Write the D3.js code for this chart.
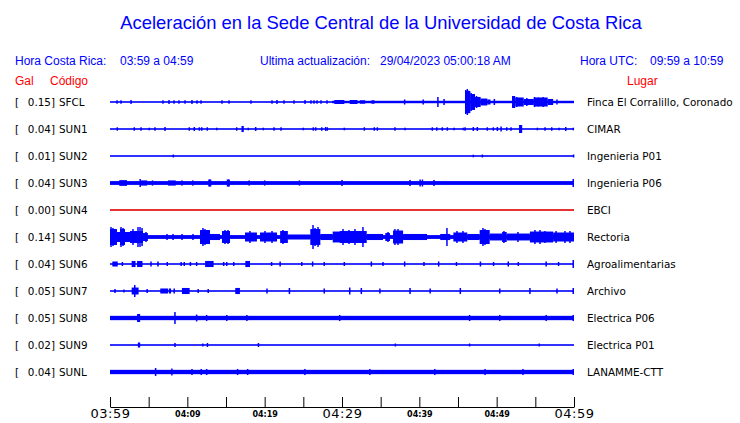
<!DOCTYPE html>
<html><head><meta charset="utf-8">
<script src="https://cdn.jsdelivr.net/npm/d3@7"></script>
<style>
html,body{margin:0;padding:0;background:#fff;}
svg text{font-family:"Liberation Sans",Arial,sans-serif;}
</style></head>
<body><svg id="c" width="740" height="423"></svg>
<script>
// ---- data (times in minutes after 03:59, amplitudes in Gal) ----
const stations = ["SFCL","SUN1","SUN2","SUN3","SUN4","SUN5","SUN6","SUN7","SUN8","SUN9","SUNL"];
const peakGal = [0.15,0.04,0.01,0.04,0.00,0.14,0.04,0.05,0.05,0.02,0.04];
const places = ["Finca El Corralillo, Coronado","CIMAR","Ingenieria P01","Ingenieria P06","EBCI","Rectoria","Agroalimentarias","Archivo","Electrica P06","Electrica P01","LANAMME-CTT"];
const tickMinutes = [0,5,10,15,20,25,30,35,40,45,50,55,60];
const tickLabels = ["03:59","","04:09","","04:19","","04:29","","04:39","","04:49","","04:59"];

// noise floor segments [t0, t1, halfAmp]
const baseLevels = [
  [[0,28.7,0.008],[28.7,60,0.014]],
  [[0,60,0.008]],
  [[0,60,0.008]],
  [[0,60,0.022]],
  [[0,60,0.009]],
  [[0,60,0.022]],
  [[0,60,0.008]],
  [[0,60,0.008]],
  [[0,60,0.025]],
  [[0,60,0.008]],
  [[0,60,0.025]]
];
// burst envelopes [t0, t1, halfAmp]
const bursts = [
  [[29.0,30.3,0.023],[31.0,32.0,0.023],[32.3,33.0,0.02],[33.8,34.2,0.02],[46.0,46.6,0.127],[46.6,47.2,0.092],[47.2,47.9,0.058],[47.9,48.8,0.040],[48.8,49.2,0.029],[52.0,52.4,0.069],[52.4,53.5,0.052],[53.5,54.8,0.035],[54.8,56.6,0.052],[56.6,57.3,0.035]],
  [[17.0,17.3,0.035],[52.9,53.3,0.046]],
  [],
  [[1.2,2.2,0.033],[4.0,4.8,0.03],[7.5,8.5,0.03],[12.7,13.1,0.04],[15.1,15.5,0.04]],
  [],
  [[0,0.9,0.092],[0.9,1.3,0.058],[1.3,1.94,0.092],[1.94,2.59,0.058],[2.59,4.27,0.069],[4.27,4.9,0.046],[11.64,12.93,0.081],[12.93,14.22,0.035],[14.48,15.52,0.069],[17.46,19.0,0.052],[19.4,21.6,0.052],[22.0,23.0,0.069],[23.0,25.9,0.029],[25.9,27.2,0.092],[27.2,28.8,0.035],[28.8,31.0,0.063],[29.7,33.2,0.069],[33.2,35.3,0.035],[35.6,36.2,0.046],[36.6,37.9,0.075],[37.9,41.0,0.035],[42.7,44.0,0.035],[44.4,46.2,0.052],[46.2,47.8,0.035],[47.8,49.1,0.081],[49.1,50.7,0.040],[50.7,51.3,0.058],[51.3,54.3,0.040],[54.3,57.3,0.063],[57.3,60,0.052]],
  [[0.3,1.0,0.029],[2.8,3.3,0.035],[3.5,4.2,0.035],[12.3,13.4,0.035],[17.5,18.1,0.035]],
  [[2.8,3.7,0.04],[6.5,7.5,0.029],[7.6,7.9,0.029],[9.3,10.3,0.035],[16.2,16.8,0.035]],
  [[3.5,3.9,0.046]],
  [[3.6,3.9,0.029]],
  []
];
// individual spikes [t, halfAmp]
const spikes = [
  [[0.91,0.02],[1.42,0.02],[2.72,0.023],[6.85,0.02],[7.63,0.023],[8.28,0.02],[8.92,0.02],[9.70,0.02],[10.60,0.023],[11.25,0.02],[11.77,0.02],[14.48,0.02],[15.39,0.02],[18.23,0.02],[20.95,0.02],[21.59,0.023],[22.50,0.02],[23.79,0.02],[25.22,0.023],[25.99,0.02],[26.38,0.02],[26.77,0.02],[27.28,0.02],[28.06,0.02],[38.1,0.029],[40.5,0.029],[42.4,0.058],[43.2,0.035],[46.0,0.138],[46.2,0.15],[46.4,0.13],[46.7,0.104],[47.0,0.092],[47.4,0.07],[47.8,0.058],[49.7,0.035],[52.1,0.069],[52.6,0.058],[53.9,0.046],[54.9,0.058],[55.4,0.052],[56.0,0.058],[57.8,0.029]],
  [[0.94,0.02],[3.14,0.02],[4.01,0.02],[5.08,0.015],[5.82,0.02],[7.11,0.023],[10.25,0.02],[10.90,0.023],[11.55,0.02],[11.86,0.02],[12.58,0.02],[13.80,0.015],[16.38,0.02],[17.88,0.015],[18.84,0.023],[19.82,0.015],[21.21,0.02],[22.11,0.02],[25.0,0.015],[26.29,0.02],[26.6,0.02],[27.38,0.02],[27.89,0.023],[28.10,0.02],[30.30,0.015],[32.89,0.02],[34.18,0.02],[34.57,0.02],[36.85,0.02],[38.15,0.015],[41.68,0.02],[42.25,0.02],[42.97,0.02],[43.62,0.02],[44.49,0.015],[45.69,0.015],[45.91,0.02],[46.98,0.023],[47.50,0.023],[48.79,0.02],[49.57,0.02],[50.09,0.023],[50.57,0.029],[51.30,0.02],[51.86,0.02],[53.08,0.046],[55.26,0.015],[56.25,0.02],[57.12,0.02],[58.06,0.015],[58.93,0.023],[59.91,0.015]],
  [[8.19,0.017],[46.98,0.015],[48.15,0.017],[59.95,0.017]],
  [[3.9,0.046],[5.5,0.03],[9.3,0.03],[10.7,0.03],[12.9,0.04],[15.3,0.04],[18.0,0.03],[20.0,0.03],[24.5,0.03],[30.0,0.035],[38.8,0.035],[40.1,0.04],[40.4,0.04],[41.9,0.035],[59.9,0.046]],
  [],
  [[0.13,0.115],[0.39,0.104],[0.65,0.081],[1.42,0.115],[1.68,0.104],[2.97,0.092],[3.62,0.115],[3.88,0.115],[4.14,0.104],[4.65,0.058],[7.37,0.035],[8.15,0.035],[9.31,0.035],[10.73,0.035],[12.02,0.104],[12.28,0.092],[14.87,0.081],[15.26,0.081],[18.10,0.069],[20.04,0.069],[20.95,0.069],[22.37,0.081],[22.76,0.069],[26.25,0.138],[26.51,0.104],[26.90,0.115],[30.13,0.092],[30.90,0.081],[31.68,0.092],[32.71,0.115],[35.95,0.058],[36.85,0.092],[37.24,0.092],[43.57,0.104],[44.86,0.069],[45.64,0.069],[48.23,0.104],[48.49,0.092],[50.94,0.069],[52.75,0.058],[54.95,0.081],[55.60,0.081],[56.25,0.069],[57.68,0.069],[58.83,0.069],[59.48,0.069]],
  [[1.6,0.023],[5.3,0.029],[6.2,0.029],[7.4,0.023],[9.2,0.023],[9.6,0.023],[10.4,0.023],[11.2,0.023],[14.7,0.023],[15.1,0.023],[16.0,0.023],[20.9,0.023],[22.0,0.029],[24.8,0.023],[26.2,0.029],[27.7,0.023],[30.3,0.023],[33.8,0.029],[35.3,0.023],[38.1,0.029],[40.6,0.023],[42.5,0.029],[44.8,0.023],[47.9,0.029],[49.6,0.023],[51.5,0.029],[52.8,0.023],[56.4,0.029],[58.0,0.023],[59.9,0.046]],
  [[0.65,0.023],[1.8,0.017],[3.2,0.069],[4.8,0.023],[8.3,0.029],[11.4,0.023],[12.7,0.023],[16.5,0.035],[20.3,0.029],[23.2,0.035],[27.7,0.029],[31.0,0.04],[32.5,0.035],[34.9,0.029],[38.8,0.035],[41.4,0.029],[45.3,0.035],[50.4,0.029],[54.3,0.035],[57.8,0.029],[59.9,0.035]],
  [[8.4,0.069],[11.2,0.04],[12.5,0.035],[15.1,0.035],[17.7,0.035],[29.7,0.035],[46.5,0.035],[50.4,0.035],[56.4,0.035],[59.9,0.035]],
  [[8.4,0.023],[12.0,0.017],[12.6,0.023],[19.2,0.023],[36.9,0.017],[46.5,0.017],[55.5,0.017]],
  [[5.9,0.046],[8.0,0.04],[10.6,0.035],[11.8,0.035],[12.5,0.035],[16.5,0.035],[17.8,0.035],[25.2,0.035],[33.6,0.035],[42.0,0.035],[48.5,0.035],[53.4,0.035],[59.9,0.035]]
];

// ---- drawing ----
const svg = d3.select("#c");
const t0 = new Date(2023,3,29,3,59), t1 = new Date(2023,3,29,4,59);
const x = d3.scaleTime().domain([t0,t1]).range([110,574]);
const toDate = m => new Date(t0.getTime()+m*60000);
const xm = m => x(toDate(m));
const yRow = d3.scalePoint().domain(d3.range(stations.length)).range([102,372]);
const amp = d3.scaleLinear().domain([0,0.15]).range([0,13]);

const blue = "#0000ff", red = "#ff0000";
const labStyle = "font-family:'DejaVu Sans';font-size:10.4px";

svg.append("text").attr("x",381).attr("y",29).attr("text-anchor","middle")
  .attr("font-size",18.4).attr("fill",blue)
  .text("Aceleración en la Sede Central de la Universidad de Costa Rica");

const hdr = [["Hora Costa Rica:",15],["03:59 a 04:59",120],["Ultima actualización:",260],["29/04/2023 05:00:18 AM",380],["Hora UTC:",580],["09:59 a 10:59",650]];
svg.selectAll("text.hdr").data(hdr).enter().append("text").attr("class","hdr")
  .attr("x",d=>d[1]).attr("y",65).attr("font-size",12).attr("fill",blue).text(d=>d[0]);

const sub = [["Gal",15],["Código",50],["Lugar",627]];
svg.selectAll("text.sub").data(sub).enter().append("text").attr("class","sub")
  .attr("x",d=>d[1]).attr("y",85).attr("font-size",12).attr("fill",red).text(d=>d[0]);

const rows = svg.selectAll("g.row").data(stations).enter().append("g").attr("class","row")
  .attr("transform",(d,i)=>`translate(0,${yRow(i)})`);

rows.append("text").attr("x",15).attr("y",4).text("[").attr("style",labStyle);
rows.append("text").attr("x",55).attr("y",4).attr("text-anchor","end").attr("style",labStyle)
  .text((d,i)=>peakGal[i].toFixed(2)+"]");
rows.append("text").attr("x",59).attr("y",4).attr("style",labStyle).text(d=>d);
rows.append("text").attr("x",587).attr("y",4).attr("style",labStyle).text((d,i)=>places[i]);

rows.each(function(d,i){
  const g = d3.select(this);
  const col = peakGal[i] === 0 ? "#e00000" : blue;
  const segs = baseLevels[i].concat(bursts[i]);
  g.selectAll("rect.s").data(segs).enter().append("rect").attr("class","s")
    .attr("x",s=>xm(s[0])).attr("width",s=>xm(s[1])-xm(s[0]))
    .attr("y",s=>-Math.max(amp(s[2]),0.8)).attr("height",s=>2*Math.max(amp(s[2]),0.8))
    .attr("fill",col);
  g.selectAll("rect.k").data(spikes[i]).enter().append("rect").attr("class","k")
    .attr("x",s=>xm(s[0])-0.75).attr("width",1.5)
    .attr("y",s=>-amp(s[1])).attr("height",s=>2*amp(s[1]))
    .attr("fill",col);
});

// time axis
const axis = d3.axisBottom(x).tickValues(tickMinutes.map(toDate))
  .tickSizeInner(-10).tickSizeOuter(0).tickPadding(2)
  .tickFormat((d,i)=>tickLabels[i]);
const ax = svg.append("g").attr("transform","translate(0,407)").call(axis);
ax.select(".domain").attr("stroke","#000");
ax.selectAll(".tick line").attr("stroke","#000");
ax.selectAll(".tick text").each(function(d,i){
  const big = tickMinutes[i]%30===0;
  d3.select(this).attr("fill","#000")
    .attr("style", big ? "font-family:'DejaVu Sans';font-size:13px;letter-spacing:0.5px" : "font-family:'DejaVu Sans';font-size:8px;font-weight:bold")
    .attr("dy", big ? "0.72em" : "0.95em");
});
</script></body></html>
